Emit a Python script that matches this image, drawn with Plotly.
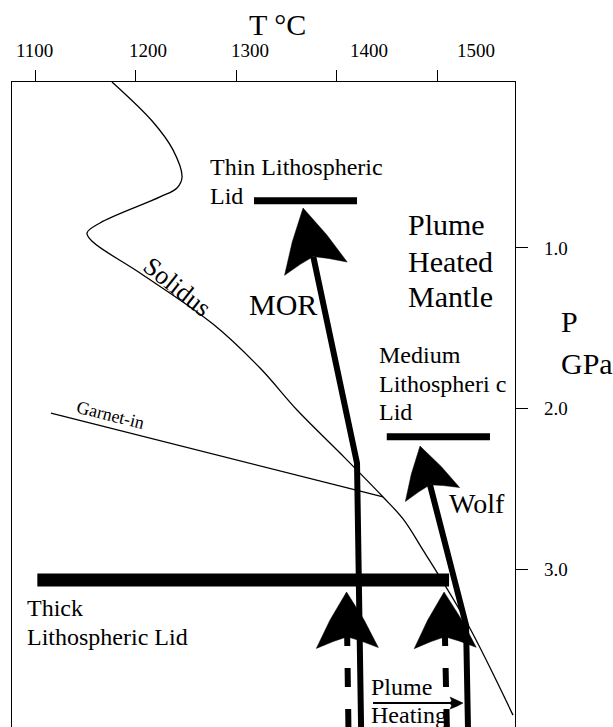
import math
import plotly.graph_objects as go

# ---------------- data (T in °C, P in GPa) ----------------
solidus_T = [1176.6, 1217.4, 1237.3, 1246.3, 1241.3, 1224.4, 1164.7, 1151.7, 1157.7,
             1204.5, 1277.1, 1323.9, 1360.7, 1403.5, 1446.3, 1466.2, 1486.1, 1529.9, 1575.6]
solidus_P = [-0.034, 0.215, 0.389, 0.558, 0.626, 0.682, 0.844, 0.907, 0.963,
             1.156, 1.474, 1.748, 2.009, 2.277, 2.551, 2.688, 2.882, 3.336, 3.910]

garnet_T = [1115.9, 1446.3]
garnet_P = [2.028, 2.551]

# arrow paths: first point = arrow tip, following points = shaft toward tail
mor_T = [1366.7, 1420.4, 1424.6]
mor_P = [0.751, 2.340, 4.05]
wolf_T = [1483.1, 1528.9, 1531.0]
wolf_P = [2.234, 3.349, 4.05]
plume1_T = [1410.0, 1412.0]
plume1_P = [3.143, 4.05]
plume2_T = [1507.0, 1510.0]
plume2_P = [3.143, 4.05]
heating_T = [1525.9, 1436.3]
heating_P = [3.835, 3.835]

# lithospheric lids
lid_names = ["Thin", "Medium", "Thick"]
lid_T0 = [1317.9, 1450.0, 1102.3]
lid_T1 = [1420.4, 1552.7, 1512.0]
lid_P = [0.705, 2.176, 3.069]

t_ticks = [1100, 1200, 1300, 1400, 1500]
t_ticktext = ["1100", "1200", "1300", "1400", "1500"]
p_ticks = [1, 2, 3]
p_ticktext = ["1.0", "2.0", "3.0"]

# ---------------- layout geometry ----------------
W, H = 613, 727
ML, MR, MT, MB = 12, 98, 82, 0
T_RANGE = [1077.1, 1577.6]
P_RANGE = [3.984, -0.034]
plot_w = W - ML - MR
plot_h = H - MT - MB
sx = plot_w / (T_RANGE[1] - T_RANGE[0])      # px per °C
sy = plot_h / (P_RANGE[0] - P_RANGE[1])      # px per GPa (downward)

FONT = "Liberation Serif"


def direction(T, P):
    dx = (T[1] - T[0]) * sx
    dy = (P[1] - P[0]) * sy
    n = math.hypot(dx, dy)
    return dx / n, dy / n


def offset(T0, P0, u, a):
    return T0 + a * u[0] / sx, P0 + a * u[1] / sy


def head_polygon(T, P, L, Wd, notch):
    u = direction(T, P)
    p = (-u[1], u[0])
    local = [(0, 0), (0.5 * L, 0.55 * Wd), (L, Wd), (0.88 * L, 0.45 * Wd), (notch * L, 0),
             (0.88 * L, -0.45 * Wd), (L, -Wd), (0.5 * L, -0.55 * Wd), (0, 0)]
    xs, ys = [], []
    for a, b in local:
        xs.append(T[0] + (a * u[0] + b * p[0]) / sx)
        ys.append(P[0] + (a * u[1] + b * p[1]) / sy)
    return xs, ys


fig = go.Figure()


def add_line(x, y, width, dash=None, shape="linear"):
    fig.add_trace(go.Scatter(x=x, y=y, mode="lines", hoverinfo="skip",
                             line=dict(color="black", width=width, dash=dash, shape=shape)))


def add_head(T, P, L, Wd, notch):
    xs, ys = head_polygon(T, P, L, Wd, notch)
    fig.add_trace(go.Scatter(x=xs, y=ys, mode="lines", fill="toself", fillcolor="black",
                             line=dict(color="black", width=0.5), hoverinfo="skip"))


# solidus and garnet-in
add_line(solidus_T, solidus_P, 1.3, shape="spline")
add_line(garnet_T, garnet_P, 1.3)

# lids
for t0, t1, p, w in zip(lid_T0, lid_T1, lid_P, [7, 7, 13]):
    add_line([t0, t1], [p, p], w)

# solid arrows (MOR, Wolf)
for T, P, L, Wd in [(mor_T, mor_P, 62, 32), (wolf_T, wolf_P, 50, 28)]:
    u = direction(T, P)
    nt, np_ = offset(T[0], P[0], u, 0.8 * L)
    add_line([nt] + T[1:], [np_] + P[1:], 6)
    add_head(T, P, L, Wd, 0.8)

# dashed plume arrows
for T, P in [(plume1_T, plume1_P), (plume2_T, plume2_P)]:
    u = direction(T, P)
    st, sp = offset(T[0], P[0], u, 35)
    add_line([st, T[1]], [sp, P[1]], 6, dash="19px,22px")
    add_head(T, P, 56, 31, 0.8)

# plume heating arrow
u = direction(heating_T, heating_P)
bt, bp = offset(heating_T[0], heating_P[0], u, 12)
add_line([bt, heating_T[1]], [bp, heating_P[1]], 2)
add_head(heating_T, heating_P, 13, 6, 1.0)

# ---------------- annotations ----------------
ann = []


def label(text, x, y, size, angle=0, xanchor="left", ref="data"):
    ann.append(dict(text=text, x=x, y=y,
                    xref="x" if ref == "data" else "paper",
                    yref="y" if ref == "data" else "paper",
                    xanchor=xanchor, yanchor="middle", showarrow=False, textangle=angle,
                    font=dict(family=FONT, size=size, color="black")))


label("Thin Lithospheric", 1272.1, 0.494, 24)
label("Lid", 1272.1, 0.675, 24)
label("Plume", 1469.2, 0.855, 30)
label("Heated", 1469.2, 1.084, 30)
label("Mantle", 1469.2, 1.302, 30)
label("MOR", 1310.9, 1.354, 30)
label("Medium", 1440.3, 1.666, 24)
label("Lithospheri c", 1440.3, 1.846, 24)
label("Lid", 1440.3, 2.021, 24)
label("Wolf", 1510.0, 2.592, 28)
label("Thick", 1090.0, 3.242, 24)
label("Lithospheric Lid", 1090.0, 3.422, 24)
label("Plume", 1432.0, 3.735, 24)
label("Heating", 1432.0, 3.912, 24)
label("Solidus", 1240.8, 1.243, 26, angle=38.5, xanchor="center")
label("Garnet-in", 1175.1, 2.040, 18, angle=14, xanchor="center")

# axis titles and top tick labels (paper coords)
label("T °C", 0.5288, 1.0887, 30, xanchor="center", ref="paper")
label("P", 1.0875, 0.628, 30, ref="paper")
label("GPa", 1.0875, 0.563, 30, ref="paper")
for txt, xp in zip(t_ticktext, [0.0447, 0.2694, 0.4732, 0.7097, 0.9225]):
    label(txt, xp, 1.0496, 19, xanchor="center", ref="paper")

fig.update_layout(
    width=W, height=H,
    margin=dict(l=ML, r=MR, t=MT, b=MB, pad=0),
    paper_bgcolor="white", plot_bgcolor="white",
    showlegend=False,
    annotations=ann,
    xaxis=dict(range=T_RANGE, side="top", ticks="outside", ticklen=11, tickwidth=1,
               tickcolor="black", tickvals=t_ticks, showticklabels=False,
               showline=True, linecolor="black", linewidth=1.2, mirror=False,
               showgrid=False, zeroline=False, fixedrange=True),
    yaxis=dict(range=P_RANGE, side="right", ticks="outside", ticklen=12, tickwidth=1,
               tickcolor="black", tickvals=p_ticks, ticktext=p_ticktext,
               tickfont=dict(family=FONT, size=19, color="black"), ticklabelstandoff=12,
               showline=True, linecolor="black", linewidth=1.2, mirror=True,
               showgrid=False, zeroline=False, fixedrange=True),
)

fig.write_html("out.html")
